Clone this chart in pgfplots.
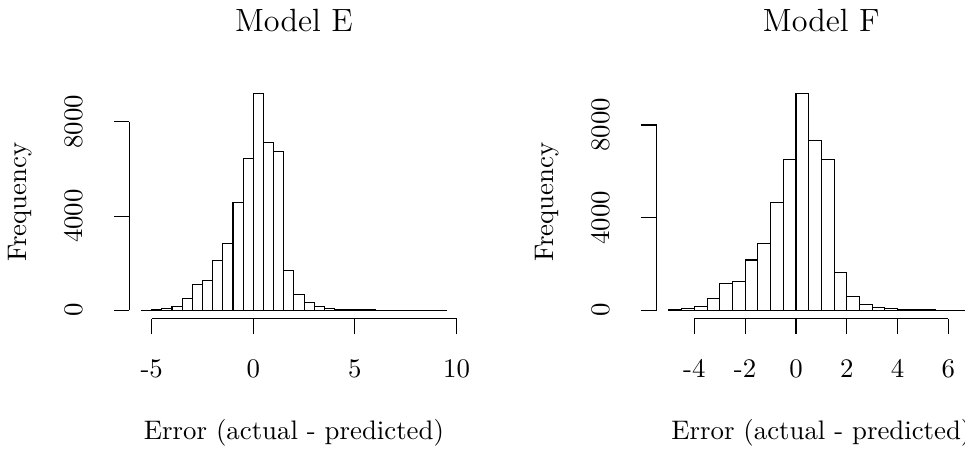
\documentclass[border=0pt]{standalone}
\usepackage{pgfplots}
\pgfplotsset{compat=1.18}

% Histogram counts: left bin edge, count (the last row closes the final bin)
\begin{document}
\begin{tikzpicture}
\useasboundingbox (0,0) rectangle (360pt,167.875pt);
\pgfplotsset{
  rhist/.style={
    scale only axis, width=122.85pt, height=87.15pt, anchor=south west,
    clip=false,
    axis x line*=bottom, axis y line*=left,
    axis line style={draw=none},
    tick align=outside, major tick length=5.8pt,
    every tick/.style={black, line width=0.4pt},
    ytick={0,4000,8000}, yticklabels={0,4000,8000},
    xticklabel style={anchor=base, yshift=-16.2pt},
    yticklabel style={xshift=-11.7pt, rotate=90, anchor=base},
    every axis title/.style={at={(axis description cs:0.5,1)}, anchor=base,
      yshift=20.07pt, font=\fontsize{12}{14.4}\selectfont},
    every axis x label/.style={at={(axis description cs:0.5,0)}, anchor=base, yshift=-45pt},
    every axis y label/.style={at={(axis description cs:0,0.5)}, xshift=-38.5pt, rotate=90, anchor=base},
    xlabel={Error (actual - predicted)}, ylabel={Frequency},
  },
  bars/.style={ybar interval, fill=white, draw=black, line width=0.4pt, mark=none},
}

% Model E
\begin{axis}[rhist, at={(48.24pt,48.91pt)},
  xmin=-6.1, xmax=10.1, ymin=-367.6, ymax=9557.6,
  xtick={-5,0,5,10}, xticklabels={-5,0,5,10},
  title={Model E}]
\addplot[bars] coordinates {
(-5.5,3) (-5.0,15) (-4.5,70) (-4.0,150) (-3.5,510) (-3.0,1090) (-2.5,1280)
(-2.0,2130) (-1.5,2850) (-1.0,4570) (-0.5,6450) (0.0,9190) (0.5,7140)
(1.0,6730) (1.5,1700) (2.0,680) (2.5,310) (3.0,140) (3.5,85) (4.0,50)
(4.5,28) (5.0,15) (5.5,10) (6.0,6) (6.5,4) (7.0,3) (7.5,2) (8.0,2)
(8.5,1) (9.0,1) (9.5,1)
};
\draw[line width=0.4pt] (axis cs:-5,-367.6) -- (axis cs:10,-367.6);
\draw[line width=0.4pt] (axis cs:-6.1,0) -- (axis cs:-6.1,8000);
\end{axis}

% Model F
\begin{axis}[rhist, at={(245.0pt,48.91pt)},
  xmin=-5.48, xmax=7.48, ymin=-373.6, ymax=9713.6,
  xtick={-4,-2,0,2,4,6}, xticklabels={-4,-2,0,2,4,6},
  title={Model F}]
\addplot[bars] coordinates {
(-5.0,20) (-4.5,60) (-4.0,160) (-3.5,507) (-3.0,1160) (-2.5,1260)
(-2.0,2170) (-1.5,2870) (-1.0,4650) (-0.5,6490) (0.0,9340) (0.5,7330)
(1.0,6490) (1.5,1610) (2.0,590) (2.5,250) (3.0,130) (3.5,72) (4.0,40)
(4.5,22) (5.0,12) (5.5,7) (6.0,4) (6.5,2) (7.0,2)
};
\draw[line width=0.4pt] (axis cs:-4,-373.6) -- (axis cs:6,-373.6);
\draw[line width=0.4pt] (axis cs:-5.48,0) -- (axis cs:-5.48,8000);
\end{axis}
\end{tikzpicture}
\end{document}
